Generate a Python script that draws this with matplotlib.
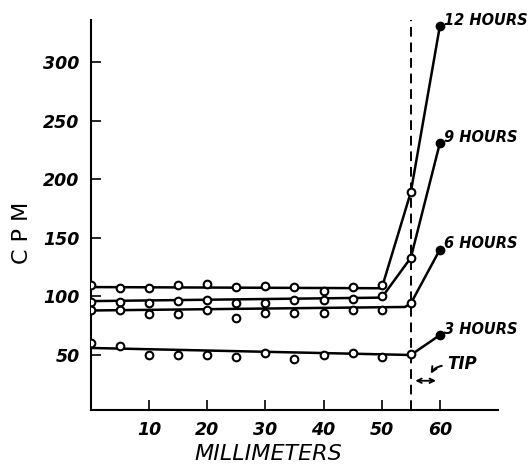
# CPM along the root

import matplotlib.pyplot as plt

mm = [0, 5, 10, 15, 20, 25, 30, 35, 40, 45, 50, 55, 60]

# measured points
cpm_12h = [110, 107, 107, 110, 111, 108, 109, 108, 105, 108, 110, 189, 331]
cpm_9h = [95, 95, 94, 96, 97, 94, 94, 97, 97, 98, 100, 133, 231]
cpm_6h = [88, 88, 85, 85, 88, 82, 86, 86, 86, 88, 88, 94, 140]
cpm_3h = [60, 58, 50, 50, 50, 48, 52, 47, 50, 52, 48, 51, 67]

# hand drawn lines through the points
fit_12h_x = [0, 50, 55, 60]
fit_12h_y = [108, 107, 189, 331]
fit_9h_x = [0, 50, 55, 60]
fit_9h_y = [96, 99, 133, 231]
fit_6h_x = [0, 54, 55, 60]
fit_6h_y = [88, 91, 94, 140]
fit_3h_x = [0, 55, 60]
fit_3h_y = [56, 50, 67]

labels = ['12 HOURS', '9 HOURS', '6 HOURS', '3 HOURS']
tip_mm = 55

fig = plt.figure(figsize=(5.31, 4.67), dpi=100)
ax = fig.add_axes([0.171, 0.122, 0.767, 0.835])

series = [
    (cpm_12h, fit_12h_x, fit_12h_y),
    (cpm_9h, fit_9h_x, fit_9h_y),
    (cpm_6h, fit_6h_x, fit_6h_y),
    (cpm_3h, fit_3h_x, fit_3h_y),
]
for (pts, fx, fy), lab in zip(series, labels):
    ax.plot(fx, fy, '-k', linewidth=1.8, zorder=2)
    ax.plot(mm[:-1], pts[:-1], 'o', color='k', mfc='white', mew=1.5, ms=5.5, zorder=3)
    ax.plot(mm[-1], pts[-1], 'o', color='k', ms=6, zorder=3)
    ax.text(mm[-1] + 0.7, pts[-1] + 5, lab, fontsize=10.5, fontweight='bold',
            style='italic', va='center', ha='left')

ax.axvline(tip_mm, color='k', linestyle=(0, (5, 3)), linewidth=1.4, zorder=1)

# TIP marker
ax.annotate('', xy=(55.3, 28), xytext=(59.8, 28),
            arrowprops=dict(arrowstyle='<->', color='k', lw=1.3, mutation_scale=8))
ax.annotate('', xy=(58.2, 32), xytext=(60.8, 41),
            arrowprops=dict(arrowstyle='->', color='k', lw=1.4, mutation_scale=9,
                            connectionstyle='arc3,rad=0.3'))
ax.text(61.2, 42, 'TIP', fontsize=12, fontweight='bold', style='italic',
        va='center', ha='left')

ax.set_xlim(0, 70)
ax.set_ylim(3, 336)
ax.set_xticks([10, 20, 30, 40, 50, 60])
ax.set_yticks([50, 100, 150, 200, 250, 300])
ax.tick_params(direction='in', length=7, width=1.2, labelsize=12.5, pad=8)
for t in ax.get_xticklabels() + ax.get_yticklabels():
    t.set_fontstyle('italic')
    t.set_fontweight('bold')

for s in ['top', 'right']:
    ax.spines[s].set_visible(False)
for s in ['left', 'bottom']:
    ax.spines[s].set_linewidth(1.5)

ax.set_xlabel('MILLIMETERS', fontsize=16, style='italic')
ax.xaxis.set_label_coords(0.437, -0.088)
ax.set_ylabel('C P M', fontsize=16)
ax.yaxis.set_label_coords(-0.145, 0.454)

plt.savefig('out.png', dpi=100)
